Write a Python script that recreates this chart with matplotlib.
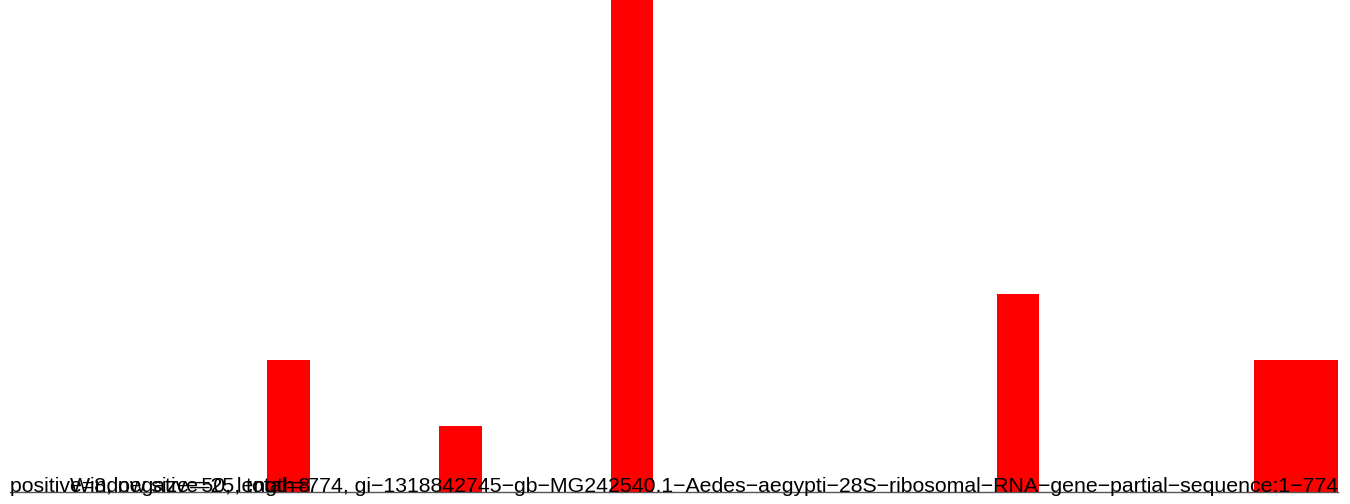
import matplotlib
matplotlib.use("Agg")
import matplotlib.pyplot as plt

# window starts (bp) and counts
starts = [150, 250, 350, 575, 725, 750]
counts = [2, 1, 8, 3, 2, 2]
bar_w = 25
seq_len = 774

left_label = "positive=8, negative=25, total=8"
info_label = ("Window size=50, length=774, gi\u22121318842745\u2212gb\u2212MG242540.1\u2212"
              "Aedes\u2212aegypti\u221228S\u2212ribosomal\u2212RNA\u2212gene\u2212partial\u2212"
              "sequence:1\u2212774")

plt.rcParams['font.family'] = ['Liberation Sans', 'DejaVu Sans']

fig = plt.figure(figsize=(13.5, 5.04), dpi=100)
ax = fig.add_axes([10/1350, 12/504, 1328/1350, 492/504])
ax.bar(starts, counts, width=bar_w, align='edge', color='#ff0000', linewidth=0)
ax.set_xlim(0, seq_len)
ax.set_ylim(0, 492/66)
ax.axis('off')
ax.axhline(0, color='#555555', lw=1, clip_on=False)

fig.text(10/1350, 12/504, left_label, fontsize=15.33, ha='left', va='baseline')
fig.text(1338/1350, 12/504, info_label, fontsize=15.33, ha='right', va='baseline')

fig.savefig("out.png", dpi=100)
